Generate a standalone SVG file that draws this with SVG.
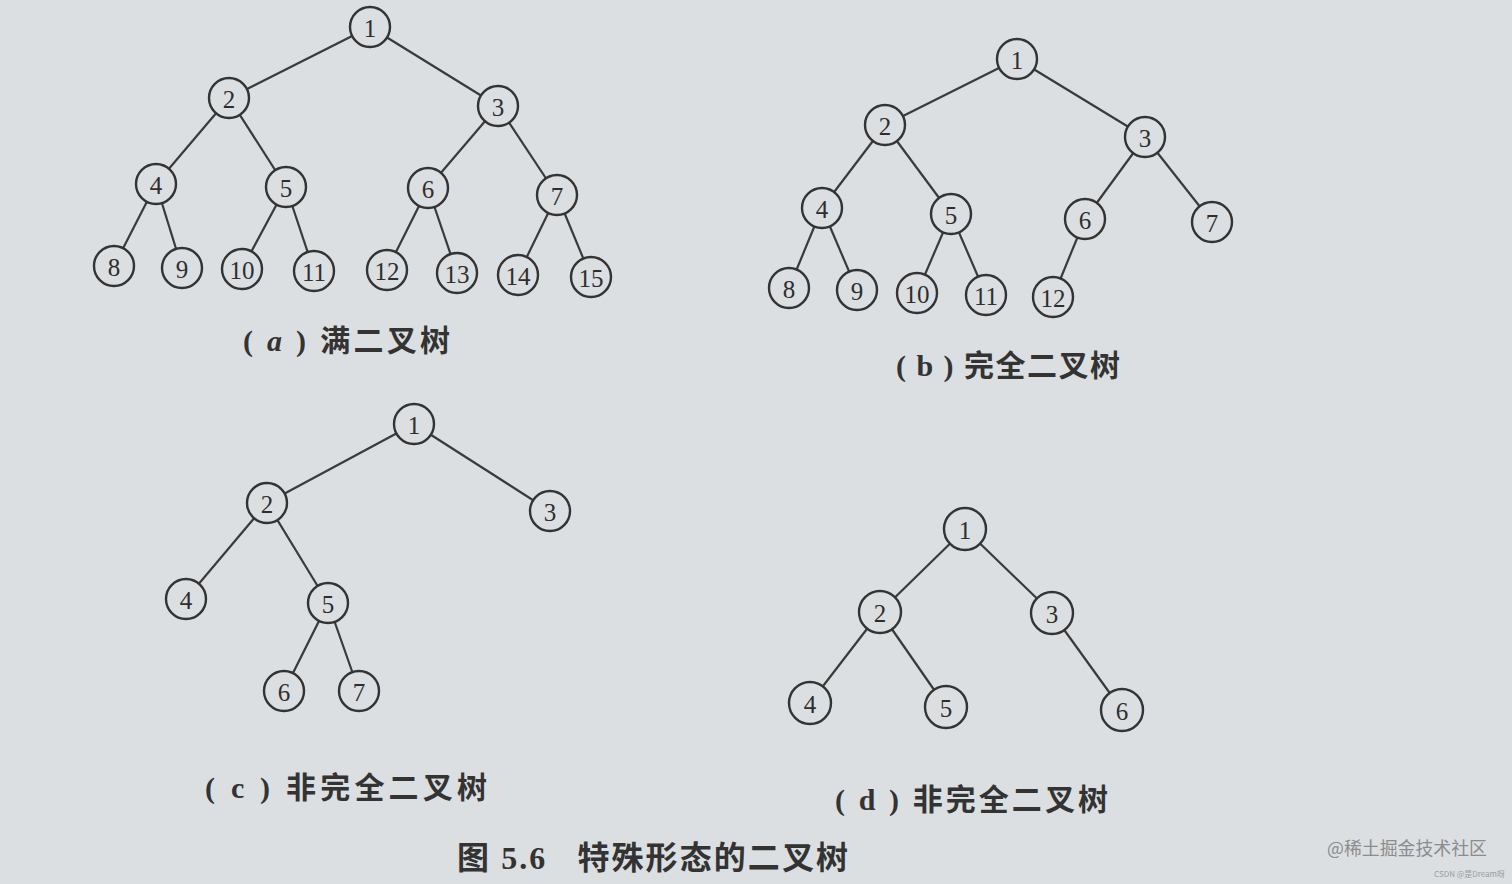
<svg xmlns="http://www.w3.org/2000/svg" width="1512" height="884" viewBox="0 0 1512 884">
<style>
.bg{fill:#dcdfe1}
.e line{stroke:#3a3a3a;stroke-width:2.2}
.n circle{fill:#dcdfe1;stroke:#333;stroke-width:2.4}
.n text{font-family:"Liberation Serif",serif;font-size:25px;fill:#2e2e2e;text-anchor:middle;dominant-baseline:central}
.cap{font-family:"Liberation Serif","Noto Sans CJK SC",serif;font-size:30px;fill:#333;font-weight:bold}
.fig{font-family:"Liberation Serif","Noto Sans CJK SC",serif;font-size:32px;fill:#333;font-weight:bold}
.wm{font-family:"Noto Sans CJK SC",sans-serif;font-size:18px;fill:#8a8c8e}
.wm2{font-family:"Noto Sans CJK SC",sans-serif;font-size:8px;fill:#9a9c9e}
</style>
<rect class="bg" x="0" y="0" width="1512" height="884"/>
<g id="connectors" class="e">
<line x1="370" y1="27" x2="229" y2="98"/><line x1="370" y1="27" x2="498" y2="106"/>
<line x1="229" y1="98" x2="156" y2="184"/><line x1="229" y1="98" x2="286" y2="187"/>
<line x1="498" y1="106" x2="428" y2="188"/><line x1="498" y1="106" x2="557" y2="195"/>
<line x1="156" y1="184" x2="114" y2="266"/><line x1="156" y1="184" x2="182" y2="268"/>
<line x1="286" y1="187" x2="242" y2="269"/><line x1="286" y1="187" x2="314" y2="271"/>
<line x1="428" y1="188" x2="387" y2="270"/><line x1="428" y1="188" x2="457" y2="273"/>
<line x1="557" y1="195" x2="518" y2="275"/><line x1="557" y1="195" x2="591" y2="277"/>
<line x1="1017" y1="59" x2="885" y2="125"/><line x1="1017" y1="59" x2="1145" y2="137"/>
<line x1="885" y1="125" x2="822" y2="208"/><line x1="885" y1="125" x2="951" y2="214"/>
<line x1="1145" y1="137" x2="1085" y2="219"/><line x1="1145" y1="137" x2="1212" y2="222"/>
<line x1="822" y1="208" x2="789" y2="288"/><line x1="822" y1="208" x2="857" y2="290"/>
<line x1="951" y1="214" x2="917" y2="293"/><line x1="951" y1="214" x2="986" y2="295"/>
<line x1="1085" y1="219" x2="1053" y2="297"/>
<line x1="414" y1="424" x2="267" y2="503"/><line x1="414" y1="424" x2="550" y2="511"/>
<line x1="267" y1="503" x2="186" y2="599"/><line x1="267" y1="503" x2="328" y2="603"/>
<line x1="328" y1="603" x2="284" y2="691"/><line x1="328" y1="603" x2="359" y2="691"/>
<line x1="965" y1="529" x2="880" y2="612"/><line x1="965" y1="529" x2="1052" y2="613"/>
<line x1="880" y1="612" x2="810" y2="703"/><line x1="880" y1="612" x2="946" y2="707"/>
<line x1="1052" y1="613" x2="1122" y2="710"/>
</g>
<g id="tree-a">
<g id="a1" class="n"><circle cx="370" cy="27" r="20"/><text x="370" y="28">1</text></g>
<g id="a2" class="n"><circle cx="229" cy="98" r="20"/><text x="229" y="99">2</text></g>
<g id="a3" class="n"><circle cx="498" cy="106" r="20"/><text x="498" y="107">3</text></g>
<g id="a4" class="n"><circle cx="156" cy="184" r="20"/><text x="156" y="185">4</text></g>
<g id="a5" class="n"><circle cx="286" cy="187" r="20"/><text x="286" y="188">5</text></g>
<g id="a6" class="n"><circle cx="428" cy="188" r="20"/><text x="428" y="189">6</text></g>
<g id="a7" class="n"><circle cx="557" cy="195" r="20"/><text x="557" y="196">7</text></g>
<g id="a8" class="n"><circle cx="114" cy="266" r="20"/><text x="114" y="267">8</text></g>
<g id="a9" class="n"><circle cx="182" cy="268" r="20"/><text x="182" y="269">9</text></g>
<g id="a10" class="n"><circle cx="242" cy="269" r="20"/><text x="242" y="270">10</text></g>
<g id="a11" class="n"><circle cx="314" cy="271" r="20"/><text x="314" y="272">11</text></g>
<g id="a12" class="n"><circle cx="387" cy="270" r="20"/><text x="387" y="271">12</text></g>
<g id="a13" class="n"><circle cx="457" cy="273" r="20"/><text x="457" y="274">13</text></g>
<g id="a14" class="n"><circle cx="518" cy="275" r="20"/><text x="518" y="276">14</text></g>
<g id="a15" class="n"><circle cx="591" cy="277" r="20"/><text x="591" y="278">15</text></g>
</g>
<g id="tree-b">
<g id="b1" class="n"><circle cx="1017" cy="59" r="20"/><text x="1017" y="60">1</text></g>
<g id="b2" class="n"><circle cx="885" cy="125" r="20"/><text x="885" y="126">2</text></g>
<g id="b3" class="n"><circle cx="1145" cy="137" r="20"/><text x="1145" y="138">3</text></g>
<g id="b4" class="n"><circle cx="822" cy="208" r="20"/><text x="822" y="209">4</text></g>
<g id="b5" class="n"><circle cx="951" cy="214" r="20"/><text x="951" y="215">5</text></g>
<g id="b6" class="n"><circle cx="1085" cy="219" r="20"/><text x="1085" y="220">6</text></g>
<g id="b7" class="n"><circle cx="1212" cy="222" r="20"/><text x="1212" y="223">7</text></g>
<g id="b8" class="n"><circle cx="789" cy="288" r="20"/><text x="789" y="289">8</text></g>
<g id="b9" class="n"><circle cx="857" cy="290" r="20"/><text x="857" y="291">9</text></g>
<g id="b10" class="n"><circle cx="917" cy="293" r="20"/><text x="917" y="294">10</text></g>
<g id="b11" class="n"><circle cx="986" cy="295" r="20"/><text x="986" y="296">11</text></g>
<g id="b12" class="n"><circle cx="1053" cy="297" r="20"/><text x="1053" y="298">12</text></g>
</g>
<g id="tree-c">
<g id="c1" class="n"><circle cx="414" cy="424" r="20"/><text x="414" y="425">1</text></g>
<g id="c2" class="n"><circle cx="267" cy="503" r="20"/><text x="267" y="504">2</text></g>
<g id="c3" class="n"><circle cx="550" cy="511" r="20"/><text x="550" y="512">3</text></g>
<g id="c4" class="n"><circle cx="186" cy="599" r="20"/><text x="186" y="600">4</text></g>
<g id="c5" class="n"><circle cx="328" cy="603" r="20"/><text x="328" y="604">5</text></g>
<g id="c6" class="n"><circle cx="284" cy="691" r="20"/><text x="284" y="692">6</text></g>
<g id="c7" class="n"><circle cx="359" cy="691" r="20"/><text x="359" y="692">7</text></g>
</g>
<g id="tree-d">
<g id="d1" class="n"><circle cx="965" cy="529" r="21"/><text x="965" y="530">1</text></g>
<g id="d2" class="n"><circle cx="880" cy="612" r="21"/><text x="880" y="613">2</text></g>
<g id="d3" class="n"><circle cx="1052" cy="613" r="21"/><text x="1052" y="614">3</text></g>
<g id="d4" class="n"><circle cx="810" cy="703" r="21"/><text x="810" y="704">4</text></g>
<g id="d5" class="n"><circle cx="946" cy="707" r="21"/><text x="946" y="708">5</text></g>
<g id="d6" class="n"><circle cx="1122" cy="710" r="21"/><text x="1122" y="711">6</text></g>
</g>
<g id="captions">
<text class="cap" x="243" y="351" textLength="207" lengthAdjust="spacing" xml:space="preserve">( <tspan font-style="italic">a</tspan> ) 满二叉树</text>
<text class="cap" x="896" y="376" textLength="224" lengthAdjust="spacing" xml:space="preserve">( b ) 完全二叉树</text>
<text class="cap" x="205" y="798" textLength="282" lengthAdjust="spacing" xml:space="preserve">( c ) 非完全二叉树</text>
<text class="cap" x="835" y="810" textLength="273" lengthAdjust="spacing" xml:space="preserve">( d ) 非完全二叉树</text>
<text class="fig" x="457" y="869" textLength="391" lengthAdjust="spacing" xml:space="preserve">图 5.6   特殊形态的二叉树</text>
<text class="wm" x="1327" y="855" textLength="160" lengthAdjust="spacingAndGlyphs">@稀土掘金技术社区</text>
<text class="wm2" x="1434" y="877" textLength="71" lengthAdjust="spacingAndGlyphs">CSDN @是Dream呀</text>
</g>
</svg>
